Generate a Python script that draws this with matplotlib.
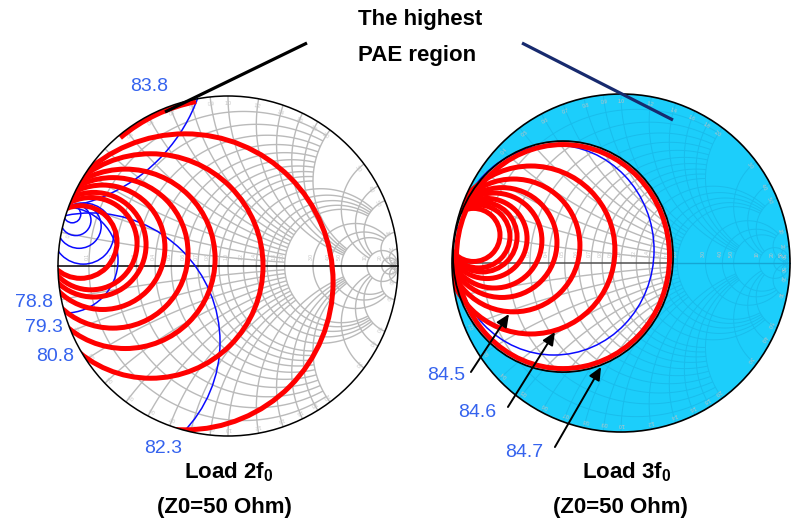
import numpy as np
import matplotlib
matplotlib.use("Agg")
import matplotlib.pyplot as plt
from matplotlib.patches import Circle, Ellipse, Arc
from matplotlib.collections import LineCollection

plt.rcParams['font.family'] = ['Liberation Sans', 'DejaVu Sans']
plt.rcParams['mathtext.fontset'] = 'custom'
plt.rcParams['mathtext.rm'] = 'Liberation Sans'
plt.rcParams['mathtext.bf'] = 'Liberation Sans:bold'
plt.rcParams['mathtext.it'] = 'Liberation Sans:italic'

# ---------------- data ----------------
# Smith chart grid: normalised values and the extent each line is drawn to
grid_values = [0.1, 0.2, 0.3, 0.4, 0.5, 0.6, 0.7, 0.8, 0.9, 1.0,
               1.2, 1.4, 1.6, 1.8, 2.0, 3.0, 4.0, 5.0, 10.0, 20.0, 50.0]
grid_extent = [2.0] * 10 + [5.0] * 5 + [10.0] * 3 + [np.inf] * 3
grid_labels = ['0.1', '0.2', '0.3', '0.4', '0.5', '0.6', '0.7', '0.8', '0.9', '1.0',
               '1.2', '1.4', '1.6', '1.8', '2.0', '3.0', '4.0', '5.0', '10', '20', '50']

# Load 2f0: red PAE contours (circles cut by |G|=1: end angles in deg, rightmost Re(G))
l2_red_start_deg = [146, 148, 150, 152, 154, 156, 158, 160]
l2_red_end_deg = [254.5, 212, 202, 195, 189, 186, 183.5, 181.5]
l2_red_right = [0.618, 0.206, -0.076, -0.235, -0.371, -0.482, -0.535, -0.653]
l2_red_edge_radius = 0.985
l2_red_edge_deg = [101, 130]
# Load 2f0: blue contours (centre Re, centre Im, radius)
l2_blue_cx = [-0.806, -1.115, -0.959, -0.916, -0.896, -0.876, -0.851]
l2_blue_cy = [-0.447, 1.329, 0.035, 0.304, 0.269, 0.234, 0.191]
l2_blue_r = [0.759, 0.997, 0.312, 0.05, 0.09, 0.13, 0.18]
l2_label_text = ['83.8', '78.8', '79.3', '80.8', '82.3']
l2_label_re = [-0.465, -1.141, -1.082, -1.018, -0.382]
l2_label_im = [1.053, -0.212, -0.359, -0.535, -1.071]

# Load 3f0: red PAE contours (centre Re, centre Im, radius)
l3_red_cx = [-0.873, -0.843, -0.822, -0.793, -0.749, -0.704, -0.636, -0.533]
l3_red_cy = [0.166, 0.157, 0.154, 0.145, 0.133, 0.121, 0.104, 0.077]
l3_red_r = [0.157, 0.186, 0.207, 0.237, 0.281, 0.325, 0.393, 0.497]
# highest-PAE region (ellipse: centre Re, centre Im, width, height)
l3_region = [-0.343, 0.038, 1.302, 1.367]
l3_blue = [-0.396, 0.077, 1.183, 1.243]
l3_blue_loop = [-1.0, 0.172, 0.047]
l3_label_text = ['84.5', '84.6', '84.7']
l3_label_re = [-1.036, -0.852, -0.574]
l3_label_im = [-0.663, -0.882, -1.124]
l3_arrow_tail_re = [-0.888, -0.669, -0.391]
l3_arrow_tail_im = [-0.645, -0.852, -1.089]
l3_arrow_head_re = [-0.663, -0.391, -0.118]
l3_arrow_head_im = [-0.302, -0.408, -0.615]

# ---------------- figure ----------------
W, H = 791, 522
fig = plt.figure(figsize=(W / 100, H / 100), dpi=100)
LBL = '#3563ee'
CYAN = '#1ccefb'


def chart_axes(cx, cy, R):
    lim = 1.12
    ax = fig.add_axes([(cx - lim * R) / W, (H - cy - lim * R) / H, 2 * lim * R / W, 2 * lim * R / H])
    ax.set_xlim(-lim, lim)
    ax.set_ylim(-lim, lim)
    ax.axis('off')
    return ax


def smith_lines():
    lines = []
    for val, ext in zip(grid_values, grid_extent):
        t = np.linspace(-np.arctan(ext), np.arctan(ext), 400)
        z = val + 1j * np.tan(t)
        g = (z - 1) / (z + 1)
        lines.append(np.column_stack([g.real, g.imag]))
        s = np.tan(np.linspace(0, np.arctan(ext), 400))
        for sgn in (1, -1):
            z = s + 1j * sgn * val
            g = (z - 1) / (z + 1)
            lines.append(np.column_stack([g.real, g.imag]))
    return lines


def smith_labels(ax, color, clip):
    for val, txt in zip(grid_values, grid_labels):
        u = (val - 1) / (val + 1)
        t = ax.text(u - 0.012, 0.035, txt, fontsize=3.6, color=color, rotation=90,
                    ha='center', va='bottom', zorder=3)
        t.set_clip_path(clip)
        for sgn in (1, -1):
            g = (1j * sgn * val - 1) / (1j * sgn * val + 1)
            ang = np.angle(g)
            rr = 0.955
            rot = np.degrees(ang) - 90
            t = ax.text(rr * np.cos(ang), rr * np.sin(ang), txt, fontsize=3.6, color=color,
                        rotation=rot, ha='center', va='center', zorder=3)
            t.set_clip_path(clip)


def circle_from_ends(a1, a2, xr):
    T = np.array([np.cos(np.radians(a1)), np.sin(np.radians(a1))])
    B = np.array([np.cos(np.radians(a2)), np.sin(np.radians(a2))])
    M = (T + B) / 2
    v = B - T
    h = np.linalg.norm(v) / 2
    d = np.array([-v[1], v[0]]) / np.linalg.norm(v)
    if d[0] < 0:
        d = -d
    k = xr - M[0]
    a = 1 - d[0] ** 2
    b = 2 * k * d[0]
    c = h * h - k * k
    if abs(a) < 1e-9:
        t = -c / b
    else:
        t = (-b + np.sqrt(b * b - 4 * a * c)) / (2 * a)
    C = M + t * d
    return C[0], C[1], np.sqrt(h * h + t * t)


# ---------------- Load 2f0 chart ----------------
axL = chart_axes(228, 266, 170)
unitL = Circle((0, 0), 1, transform=axL.transData)
lc = LineCollection(smith_lines(), colors='#bababa', linewidths=1.0, zorder=1)
axL.add_collection(lc)
lc.set_clip_path(unitL)
smith_labels(axL, '#c4c4c4', unitL)
axL.plot([-1, 1], [0, 0], color='black', lw=1.1, zorder=2)

for cx, cy, r in zip(l2_blue_cx, l2_blue_cy, l2_blue_r):
    p = Circle((cx, cy), r, fill=False, ec='#0a0aff', lw=1.1, zorder=4)
    axL.add_patch(p)
    p.set_clip_path(unitL)

for a1, a2, xr in zip(l2_red_start_deg, l2_red_end_deg, l2_red_right):
    cx, cy, r = circle_from_ends(a1, a2, xr)
    p = Circle((cx, cy), r, fill=False, ec='#ff0000', lw=3.6, zorder=5)
    axL.add_patch(p)
    p.set_clip_path(unitL)
axL.add_patch(Arc((0, 0), 2 * l2_red_edge_radius, 2 * l2_red_edge_radius,
                  theta1=l2_red_edge_deg[0], theta2=l2_red_edge_deg[1],
                  color='#ff0000', lw=3.6, zorder=5))
axL.add_patch(Circle((0, 0), 1, fill=False, ec='black', lw=1.1, zorder=6))
for txt, u, v in zip(l2_label_text, l2_label_re, l2_label_im):
    axL.text(u, v, txt, color=LBL, fontsize=14, ha='center', va='center', zorder=7)

# ---------------- Load 3f0 chart ----------------
axR = chart_axes(621, 263, 169)
unitR = Circle((0, 0), 1, transform=axR.transData)
axR.add_patch(Circle((0, 0), 1, fc=CYAN, ec='none', zorder=0.5))
lc2 = LineCollection(smith_lines(), colors='#19bdec', linewidths=0.7, zorder=1)
axR.add_collection(lc2)
lc2.set_clip_path(unitR)
axR.plot([-1, 1], [0, 0], color='#15a6d4', lw=1.0, zorder=1)

rx, ry, rw, rh = l3_region
white = Ellipse((rx, ry), rw, rh, fc='white', ec='none', zorder=2)
axR.add_patch(white)
white.set_clip_path(unitR)
regionClip = Ellipse((rx, ry), rw, rh, transform=axR.transData)
lc3 = LineCollection(smith_lines(), colors='#bababa', linewidths=1.0, zorder=3)
axR.add_collection(lc3)
lc3.set_clip_path(regionClip)
smith_labels(axR, '#c4c4c4', regionClip)
ln, = axR.plot([-1, 1], [0, 0], color='#505050', lw=1.1, zorder=3.5)
ln.set_clip_path(regionClip)

bx, by, bw, bh = l3_blue
p = Ellipse((bx, by), bw, bh, fill=False, ec='#0a0aff', lw=1.1, zorder=4)
axR.add_patch(p)
p.set_clip_path(unitR)

for i, (cx, cy, r) in enumerate(zip(l3_red_cx, l3_red_cy, l3_red_r)):
    p = Circle((cx, cy), r, fc='white' if i == 0 else 'none', ec='#ff0000', lw=3.6, zorder=5)
    axR.add_patch(p)
    p.set_clip_path(unitR)
p = Circle((l3_blue_loop[0], l3_blue_loop[1]), l3_blue_loop[2], fill=False, ec='#0a0aff', lw=1.1, zorder=5.5)
axR.add_patch(p)
p.set_clip_path(unitR)

off = 3.5 / 169
p = Ellipse((rx, ry), rw - 2 * off, rh - 2 * off, fill=False, ec='#ff0000', lw=3.6, zorder=6)
axR.add_patch(p)
p.set_clip_path(unitR)
p = Ellipse((rx, ry), rw, rh, fill=False, ec='black', lw=1.3, zorder=7)
axR.add_patch(p)
p.set_clip_path(unitR)
axR.add_patch(Circle((0, 0), 1, fill=False, ec='black', lw=1.2, zorder=8))

for txt, u, v in zip(l3_label_text, l3_label_re, l3_label_im):
    axR.text(u, v, txt, color=LBL, fontsize=14, ha='center', va='center', zorder=9)
for tu, tv, hu, hv in zip(l3_arrow_tail_re, l3_arrow_tail_im, l3_arrow_head_re, l3_arrow_head_im):
    axR.annotate('', xy=(hu, hv), xytext=(tu, tv), annotation_clip=False, zorder=9,
                 arrowprops=dict(arrowstyle='-|>,head_length=0.55,head_width=0.25',
                                 color='black', lw=1.4, shrinkA=0, shrinkB=0,
                                 mutation_scale=14))

# ---------------- overlay text ----------------
ov = fig.add_axes([0, 0, 1, 1], zorder=10)
ov.set_xlim(0, W)
ov.set_ylim(H, 0)
ov.axis('off')
ov.patch.set_alpha(0)
ov.plot([307, 165], [43, 112], color='black', lw=2.3, solid_capstyle='butt')
ov.plot([522, 673], [43, 120], color='#172a6e', lw=2.3, solid_capstyle='butt')
ov.text(358, 20, 'The highest', fontsize=16, fontweight='bold', ha='left', va='center')
ov.text(358, 55, 'PAE region', fontsize=16, fontweight='bold', ha='left', va='center')
ov.text(229, 472, r'Load 2f$_\mathbf{0}$', fontsize=16, fontweight='bold', ha='center', va='center')
ov.text(224, 507, '(Z0=50 Ohm)', fontsize=16, fontweight='bold', ha='center', va='center')
ov.text(627, 472, r'Load 3f$_\mathbf{0}$', fontsize=16, fontweight='bold', ha='center', va='center')
ov.text(620, 507, '(Z0=50 Ohm)', fontsize=16, fontweight='bold', ha='center', va='center')

fig.savefig('out.png', dpi=100)
